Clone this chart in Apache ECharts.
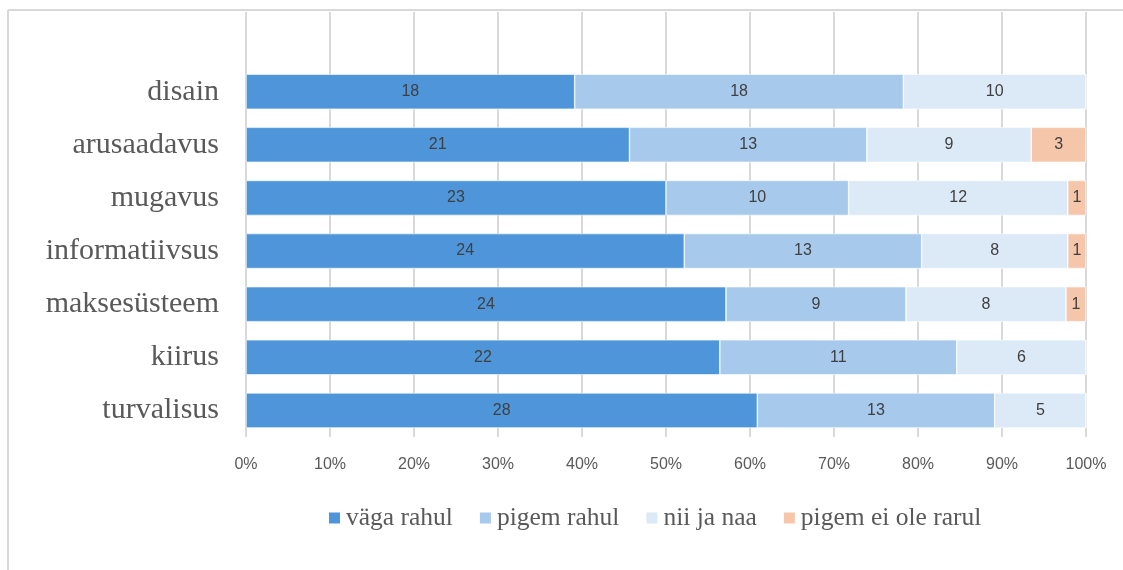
<!DOCTYPE html>
<html>
<head>
<meta charset="utf-8">
<script src="https://cdn.jsdelivr.net/npm/echarts@6/dist/echarts.min.js"></script>
<style>
html,body{margin:0;padding:0;background:#fff;}
#main{width:1123px;height:570px;}
</style>
</head>
<body>
<div id="main"></div>
<script>
// Categories top to bottom (an empty slot sits at the top of the plot)
const categories = ['disain', 'arusaadavus', 'mugavus', 'informatiivsus', 'maksesüsteem', 'kiirus', 'turvalisus'];
const seriesNames = ['väga rahul', 'pigem rahul', 'nii ja naa', 'pigem ei ole rarul'];
const vagaRahul   = [18, 21, 23, 24, 24, 22, 28];
const pigemRahul  = [18, 13, 10, 13, 9, 11, 13];
const niiJaNaa    = [10, 9, 12, 8, 8, 6, 5];
const pigemEiOle  = [0, 3, 1, 1, 1, 0, 0];
const xTicks = ['0%','10%','20%','30%','40%','50%','60%','70%','80%','90%','100%'];
const colors = ['#4e95d9', '#a6c9ec', '#dce9f6', '#f6c6aa'];

const counts = [vagaRahul, pigemRahul, niiJaNaa, pigemEiOle];
const totals = categories.map((c, i) => counts.reduce((s, a) => s + a[i], 0));

// y axis is drawn bottom-up, so reverse; add empty top slot
const yCats = [...categories].reverse().concat(['']);
const series = counts.map((arr, k) => {
  const rev = [...arr].reverse();
  const revTot = [...totals].reverse();
  const data = rev.map((v, i) => ({ value: v / revTot[i] * 100, raw: v }));
  data.push({ value: null, raw: 0 });
  return {
    name: seriesNames[k],
    type: 'bar',
    stack: 'total',
    barWidth: 35,
    itemStyle: { color: colors[k], borderColor: '#ffffff', borderWidth: 0.6 },
    label: {
      show: true,
      position: 'inside',
      color: '#404040',
      fontFamily: 'Liberation Sans, Arial, sans-serif',
      fontSize: 16,
      formatter: p => (p.data && p.data.raw > 0) ? String(p.data.raw) : ''
    },
    emphasis: { disabled: true },
    data
  };
});

const chart = echarts.init(document.getElementById('main'), null, { renderer: 'canvas' });
chart.setOption({
  animation: false,
  color: colors,
  grid: { left: 246, right: 37, top: 12, bottom: 133, containLabel: false },
  xAxis: {
    type: 'value',
    min: 0, max: 100, interval: 10,
    axisLine: { show: false },
    axisTick: { show: false },
    splitLine: { show: true, lineStyle: { color: '#d9d9d9', width: 2 } },
    axisLabel: {
      color: '#595959',
      fontFamily: 'Liberation Sans, Arial, sans-serif',
      fontSize: 16,
      margin: 20,
      formatter: v => xTicks[Math.round(v / 10)]
    }
  },
  yAxis: {
    type: 'category',
    data: yCats,
    axisLine: { show: false },
    axisTick: { show: false },
    splitLine: { show: false },
    axisLabel: {
      color: '#595959',
      fontFamily: 'Liberation Serif, Times New Roman, serif',
      fontSize: 30,
      margin: 27
    }
  },
  legend: {
    left: 322,
    top: 500,
    itemWidth: 13,
    itemHeight: 13,
    itemGap: 25,
    icon: 'rect',
    textStyle: {
      color: '#595959',
      fontFamily: 'Liberation Serif, Times New Roman, serif',
      fontSize: 25.5
    },
    data: seriesNames
  },
  graphic: [
    { type: 'line', silent: true, shape: { x1: 8, y1: 10, x2: 1123, y2: 10 }, style: { stroke: '#d9d9d9', lineWidth: 2 } },
    { type: 'line', silent: true, shape: { x1: 8, y1: 10, x2: 8, y2: 570 }, style: { stroke: '#d9d9d9', lineWidth: 2 } }
  ],
  series
});
</script>
</body>
</html>
